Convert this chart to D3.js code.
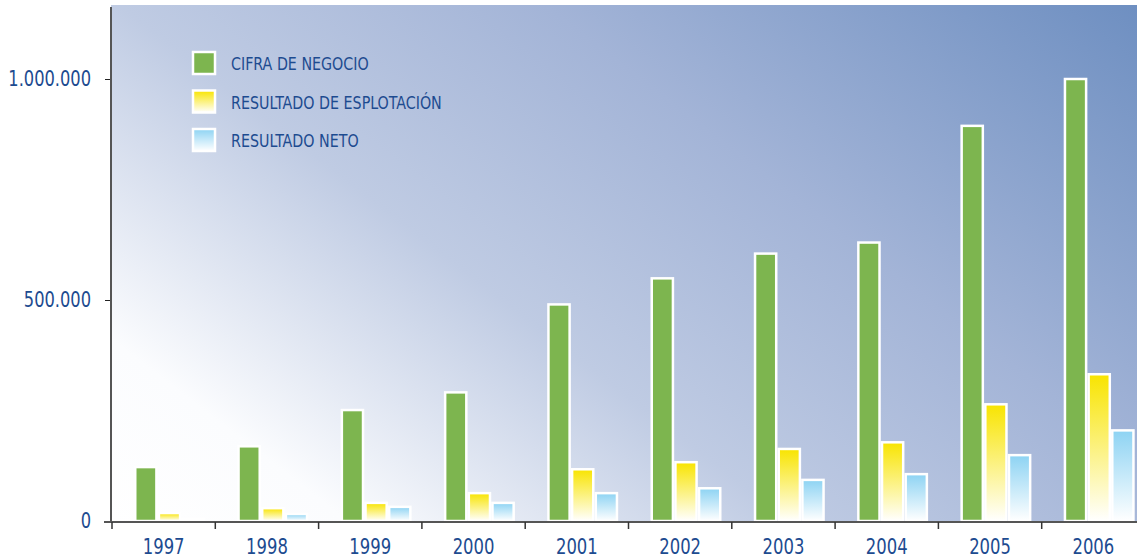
<!DOCTYPE html>
<html>
<head>
<meta charset="utf-8">
<script src="https://cdn.jsdelivr.net/npm/d3@7"></script>
<style>
  html, body { margin: 0; padding: 0; background: #fff; }
  svg { display: block; }
  text { font-family: "Liberation Sans Narrow", "DejaVu Sans Condensed", "Liberation Sans", sans-serif; fill: #1d4b90; }
</style>
</head>
<body>
<svg width="1137" height="560"></svg>
<script>
const years = ["1997", "1998", "1999", "2000", "2001", "2002", "2003", "2004", "2005", "2006"]
const seriesNames = ["CIFRA DE NEGOCIO", "RESULTADO DE ESPLOTACIÓN", "RESULTADO NETO"]
const cifra = [122000, 169000, 251000, 291000, 490000, 549000, 605000, 630000, 894000, 1000000]
const explotacion = [18000, 29000, 41000, 63000, 117000, 133000, 163000, 178000, 264000, 332000]
const neto = [5000, 16000, 32000, 41000, 63000, 74000, 93000, 106000, 149000, 205000]
const yTicks = [0, 500000, 1000000]
const yTickLabels = ["0", "500.000", "1.000.000"]

const svg = d3.select("svg")
const defs = svg.append("defs")

// squeeze text a bit, the original uses a narrow face
const narrow = (sel, k) => {
	sel.each(function () {
		const w = this.getComputedTextLength()
		d3.select(this).attr("textLength", w * k).attr("lengthAdjust", "spacingAndGlyphs")
	})
}

// background gradient, white bottom-left to blue top-right
const bg = defs.append("linearGradient")
	.attr("id", "bg")
	.attr("gradientUnits", "userSpaceOnUse")
	.attr("x1", 111).attr("y1", 522)
	.attr("x2", 743).attr("y2", -300)
bg.selectAll("stop")
	.data([[0, "#ffffff"], [0.14, "#fbfcfe"], [0.4, "#bfcbe3"], [0.65, "#a3b4d7"], [1, "#6e8fc1"]])
	.enter().append("stop")
	.attr("offset", (d) => d[0])
	.attr("stop-color", (d) => d[1])

const fills = [null, ["#f8e400", "#ffffff"], ["#8dd3f3", "#ffffff"]]
fills.forEach((f, i) => {
	if (!f) return
	const g = defs.append("linearGradient")
		.attr("id", "g" + i)
		.attr("x1", 0).attr("y1", 0).attr("x2", 0).attr("y2", 1)
	g.append("stop").attr("offset", 0).attr("stop-color", f[0])
	g.append("stop").attr("offset", 1).attr("stop-color", f[1])
})
const fillFor = (i) => (i === 0 ? "#7db54f" : `url(#g${i})`)

const x = d3.scaleBand().domain(years).range([112, 1145]).padding(0)
const xi = d3.scaleBand().domain([0, 1, 2]).range([22, 93]).padding(0)
const y = d3.scaleLinear().domain([0, 1000000]).range([521, 79])

svg.append("rect")
	.attr("x", 111).attr("y", 5)
	.attr("width", 1026).attr("height", 517)
	.attr("fill", "url(#bg)")

const data = years.map((yr, k) => ({ year: yr, values: [cifra[k], explotacion[k], neto[k]] }))

const groups = svg.selectAll(".year")
	.data(data)
	.enter().append("g")
	.attr("transform", (d) => `translate(${x(d.year)},0)`)

groups.selectAll("rect")
	.data((d) => d.values.map((v, i) => ({ v, i })))
	.enter().append("rect")
	.attr("x", (d) => xi(d.i) + 1.25)
	.attr("width", xi.bandwidth() - 2.5)
	.attr("y", (d) => y(d.v))
	.attr("height", (d) => y(0) - y(d.v))
	.attr("fill", (d) => fillFor(d.i))
	.attr("stroke", "#fff")
	.attr("stroke-width", 2.5)

// y axis
const yAxis = d3.axisLeft(y)
	.tickValues(yTicks)
	.tickFormat((d, i) => yTickLabels[i])
	.tickSize(6)
	.tickPadding(14)
const yg = svg.append("g").attr("transform", "translate(111,0)").call(yAxis)
yg.select(".domain").remove()
yg.selectAll(".tick line").attr("stroke", "#222")
yg.selectAll(".tick text").attr("font-size", 21).style("fill", "#1d4b90").call(narrow, 0.86)
svg.append("line")
	.attr("x1", 111).attr("x2", 111).attr("y1", 7).attr("y2", 523)
	.attr("stroke", "#555").attr("stroke-width", 2)

// x axis
const xAxis = d3.axisBottom(x).tickSize(0).tickPadding(17)
const xg = svg.append("g").attr("transform", "translate(0,522)").call(xAxis)
xg.select(".domain").remove()
xg.selectAll(".tick text").attr("font-size", 21).style("fill", "#1d4b90").call(narrow, 0.87)
svg.append("line")
	.attr("x1", 104).attr("x2", 1137).attr("y1", 522).attr("y2", 522)
	.attr("stroke", "#555").attr("stroke-width", 2)
svg.selectAll(".bound")
	.data(years)
	.enter().append("line")
	.attr("x1", (d) => x(d)).attr("x2", (d) => x(d))
	.attr("y1", 522).attr("y2", 529)
	.attr("stroke", "#333").attr("stroke-width", 1.5)

// legend
const legend = svg.selectAll(".legend")
	.data(seriesNames)
	.enter().append("g")
	.attr("transform", (d, i) => `translate(193,${52 + i * 38.5})`)
legend.append("rect")
	.attr("width", 22).attr("height", 22)
	.attr("fill", (d, i) => fillFor(i))
	.attr("stroke", "#fff").attr("stroke-width", 2.5)
legend.append("text")
	.attr("x", 38).attr("y", 18)
	.attr("font-size", 18)
	.text((d) => d)
	.call(narrow, 0.88)
</script>
</body>
</html>
